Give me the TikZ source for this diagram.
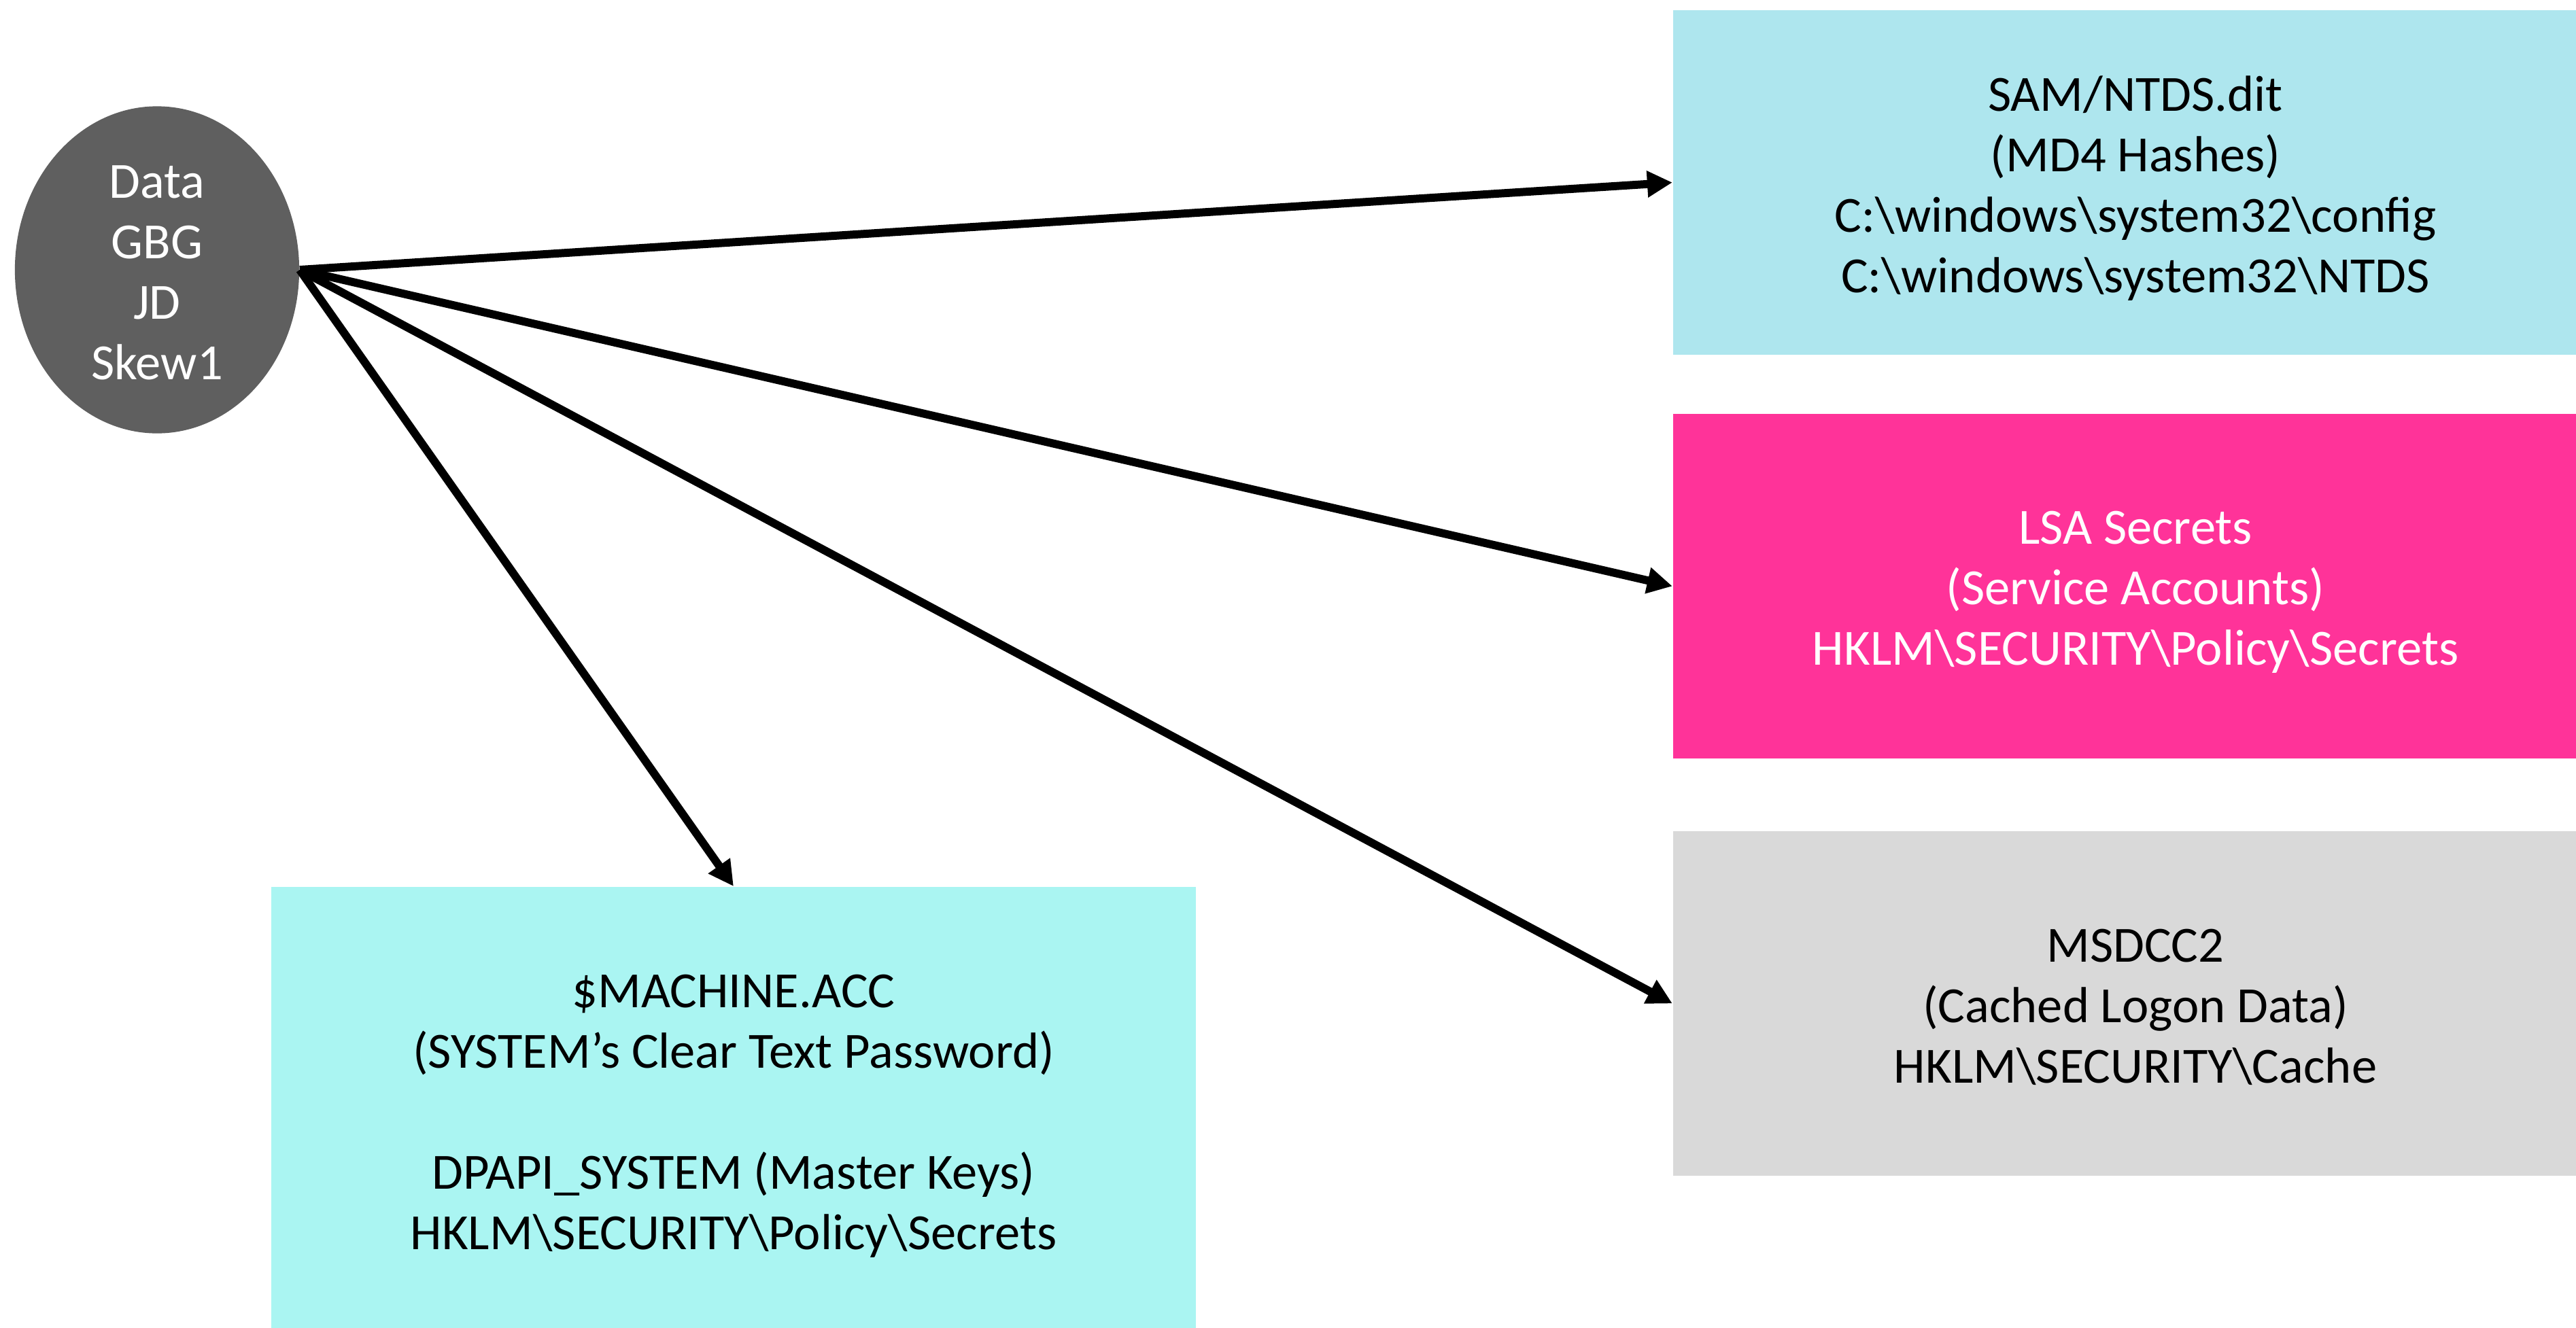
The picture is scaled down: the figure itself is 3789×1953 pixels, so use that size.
\documentclass[tikz,border=0pt]{standalone}
\usepackage{fontspec}
\setmainfont{Carlito}
\usetikzlibrary{shapes.geometric,arrows.meta}
\definecolor{topblue}{RGB}{174,230,238}
\definecolor{paleaqua}{RGB}{170,245,242}
\definecolor{hotpink}{RGB}{255,51,153}
\definecolor{lightgray}{RGB}{217,217,217}
\definecolor{darkgray}{RGB}{95,95,95}
\tikzset{
  box/.style={rectangle, inner sep=0pt, draw=none, minimum width=13.6cm},
  txt/.style={inner sep=0pt, align=center, font=\fontsize{21.2pt}{25.3pt}\selectfont},
  arr/.style={line width=3.4pt, -{Triangle[length=0.37cm,width=0.37cm]}},
}
\begin{document}
\begin{tikzpicture}[x=0.01cm,y=-0.01cm]
\useasboundingbox (0,0) rectangle (3789,1953);
\clip (0,0) rectangle (3789,1953);
\node[ellipse, fill=darkgray, inner sep=0pt, minimum width=4.18cm, minimum height=4.81cm] (src) at (231,397) {};
\node[txt, text=white] (srct) at (231,401) {Data\\GBG\\JD\\Skew1};
\node[box, fill=topblue, minimum height=5.07cm] (sam) at (3141,268.5) {};
\node[txt] (samt) at (3141,277) {SAM/NTDS.dit\\(MD4 Hashes)\\C:\textbackslash windows\textbackslash system32\textbackslash config\\C:\textbackslash windows\textbackslash system32\textbackslash NTDS};
\node[box, fill=hotpink, minimum height=5.07cm] (lsa) at (3141,862.5) {};
\node[txt, text=white] (lsat) at (3141,871) {LSA Secrets\\(Service Accounts)\\HKLM\textbackslash SECURITY\textbackslash Policy\textbackslash Secrets};
\node[box, fill=lightgray, minimum height=5.07cm] (msd) at (3141,1476.5) {};
\node[txt] (msdt) at (3141,1482) {MSDCC2\\(Cached Logon Data)\\HKLM\textbackslash SECURITY\textbackslash Cache};
\node[box, fill=paleaqua, minimum height=6.62cm] (mach) at (1079,1636) {};
\node[txt] (macht) at (1079,1642) {\$MACHINE.ACC\\(SYSTEM’s Clear Text Password)\\[25.3pt]DPAPI\_SYSTEM (Master Keys)\\HKLM\textbackslash SECURITY\textbackslash Policy\textbackslash Secrets};
\draw[arr] (src.east) -- (sam.west);
\draw[arr] (src.east) -- (lsa.west);
\draw[arr] (src.east) -- (msd.west);
\draw[arr] (src.east) -- (mach.north);
\end{tikzpicture}
\end{document}
